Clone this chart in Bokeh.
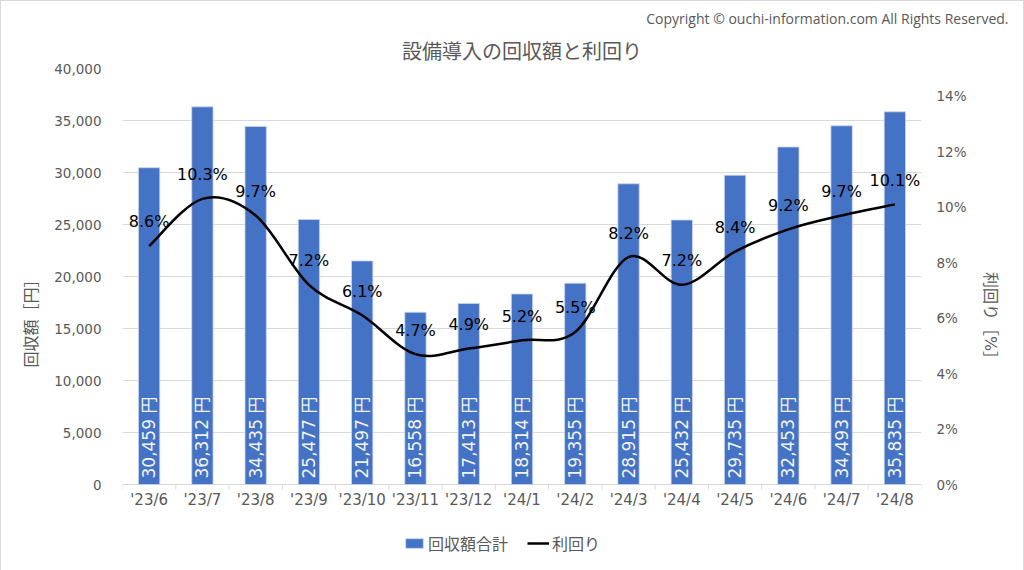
import numpy as np
from bokeh.plotting import figure
from bokeh.models import (Range1d, LinearAxis, FixedTicker, NumeralTickFormatter,
                          PrintfTickFormatter, ColumnDataSource, Legend, LegendItem,
                          Title)
from bokeh.core.properties import value
from bokeh.embed import file_html
from bokeh.resources import INLINE

# ---------------- data ----------------
months = ["'23/6", "'23/7", "'23/8", "'23/9", "'23/10", "'23/11", "'23/12",
          "'24/1", "'24/2", "'24/3", "'24/4", "'24/5", "'24/6", "'24/7", "'24/8"]
amounts = [30459, 36312, 34435, 25477, 21497, 16558, 17413, 18314, 19355,
           28915, 25432, 29735, 32453, 34493, 35835]
yields_pct = [8.6, 10.3, 9.7, 7.2, 6.1, 4.7, 4.9, 5.2, 5.5, 8.2, 7.2, 8.4, 9.2, 9.7, 10.1]
amount_ticks = [0, 5000, 10000, 15000, 20000, 25000, 30000, 35000, 40000]
yield_ticks = [0, 2, 4, 6, 8, 10, 12, 14]

title_text = "設備導入の回収額と利回り"
copyright_text = "Copyright © ouchi-information.com All Rights Reserved."
left_label = "回収額［円］"
right_label = "利回り［%］"
bar_name = "回収額合計"
line_name = "利回り"

FONT = "'DejaVu Sans', 'Noto Sans CJK JP'"
GRAY = "#595959"
GRID = "#d9d9d9"
BLUE = "#4472C4"

# layout (pixels): plot area 416 px tall for the value axes, 86 px below for labels/legend
AXIS_PX = 416
BELOW_PX = 86
AMOUNT_MAX = 40000
PCT_MAX = 15

n = len(months)
xs = np.arange(n, dtype=float)
ys = np.array(yields_pct, dtype=float)

src = ColumnDataSource(dict(
    x=xs, amount=amounts, pct=yields_pct, month=months,
    amount_label=[f"{v:,} 円" for v in amounts],
    pct_label=[f"{v:.1f}%" for v in yields_pct],
))

# Smoothed line (Catmull-Rom style Bezier control points from the data points)
qx = np.concatenate([[xs[0]], xs, [xs[-1]]])
qy = np.concatenate([[ys[0]], ys, [ys[-1]]])
bez = ColumnDataSource(dict(
    x0=qx[1:n], y0=qy[1:n], x1=qx[2:n + 1], y1=qy[2:n + 1],
    cx0=qx[1:n] + (qx[2:n + 1] - qx[0:n - 1]) / 6.0,
    cy0=qy[1:n] + (qy[2:n + 1] - qy[0:n - 1]) / 6.0,
    cx1=qx[2:n + 1] - (qx[3:n + 2] - qx[1:n]) / 6.0,
    cy1=qy[2:n + 1] - (qy[3:n + 2] - qy[1:n]) / 6.0,
))

amount_start = -AMOUNT_MAX * BELOW_PX / AXIS_PX
pct_start = -PCT_MAX * BELOW_PX / AXIS_PX

p = figure(frame_width=799, frame_height=AXIS_PX + BELOW_PX, output_backend="svg",
           toolbar_location=None, x_axis_location=None,
           x_range=Range1d(-0.5, n - 0.5), y_range=Range1d(amount_start, AMOUNT_MAX),
           min_border_left=121, min_border_right=102, min_border_top=0,
           min_border_bottom=0,
           styles={"border": "1px solid #d9d9d9"})
p.extra_y_ranges = {"pct": Range1d(pct_start, PCT_MAX)}
p.outline_line_color = None
p.background_fill_color = "white"
p.border_fill_color = "white"

# titles (copyright is outermost, main title nearest the frame)
p.title.text = copyright_text
p.title.align = "right"
p.title.text_font = "Open Sans"
p.title.text_font_size = "14px"
p.title.text_font_style = "normal"
p.title.text_color = GRAY
p.title.offset = -87
p.add_layout(Title(text=title_text, align="center", text_font=FONT,
                   text_font_size="20px", text_font_style="normal",
                   text_color=GRAY), "above")

p.xgrid.grid_line_color = None
p.ygrid.grid_line_color = GRID
p.ygrid.ticker = FixedTicker(ticks=amount_ticks)

# category boundary tick marks and category labels under the zero line
bounds = np.arange(n + 1) - 0.5
tick_len = AMOUNT_MAX * 5 / AXIS_PX
p.segment(x0=bounds, y0=np.zeros(n + 1), x1=bounds, y1=np.full(n + 1, -tick_len),
          line_color=GRID, line_width=1)
p.text(x="x", y=0, text="month", source=src, y_offset=15, text_align="center",
       text_baseline="middle", text_color=GRAY, text_font=value(FONT),
       text_font_size="15px")

# bars
bars = p.vbar(x="x", top="amount", width=0.4, source=src, fill_color=BLUE,
              line_color="#c9d6ee", line_width=0.8)
p.text(x="x", y=0, text="amount_label", source=src, angle=np.pi / 2,
       text_align="left", text_baseline="middle", y_offset=-6,
       text_color="#f2f2f2", text_font=value(FONT), text_font_size="17px")

# line
p.bezier(x0="x0", y0="y0", x1="x1", y1="y1", cx0="cx0", cy0="cy0",
         cx1="cx1", cy1="cy1", source=bez, line_color="black", line_width=2.5,
         y_range_name="pct")
p.text(x="x", y="pct", text="pct_label", source=src, y_range_name="pct",
       text_align="center", text_baseline="middle", y_offset=-24,
       text_color="black", text_font=value(FONT), text_font_size="16px")
# zero-length line: only provides the legend swatch for the yield curve
line_dummy = p.line(x=[0, 0], y=[0, 0], line_color="black", line_width=2.5)

# value axes
ya = p.yaxis[0]
ya.ticker = FixedTicker(ticks=amount_ticks)
ya.formatter = NumeralTickFormatter(format="0,0")
ya.axis_line_color = None
ya.major_tick_line_color = None
ya.minor_tick_line_color = None
ya.major_label_text_font = FONT
ya.major_label_text_font_size = "13.5px"
ya.major_label_text_color = GRAY
ya.major_label_standoff = 15
ya.axis_label = left_label
ya.axis_label_text_font = FONT
ya.axis_label_text_font_size = "16px"
ya.axis_label_text_font_style = "normal"
ya.axis_label_text_color = GRAY
ya.axis_label_standoff = 10

ra = LinearAxis(y_range_name="pct", ticker=FixedTicker(ticks=yield_ticks),
                formatter=PrintfTickFormatter(format="%d%%"))
ra.axis_line_color = None
ra.major_tick_line_color = None
ra.minor_tick_line_color = None
ra.major_label_text_font = FONT
ra.major_label_text_font_size = "13.5px"
ra.major_label_text_color = GRAY
ra.major_label_standoff = 9
ra.axis_label = right_label
ra.axis_label_text_font = FONT
ra.axis_label_text_font_size = "16px"
ra.axis_label_text_font_style = "normal"
ra.axis_label_text_color = GRAY
ra.axis_label_standoff = 11
p.add_layout(ra, "right")

# legend inside the lower strip of the plot area
legend = Legend(items=[LegendItem(label=bar_name, renderers=[bars]),
                       LegendItem(label=line_name, renderers=[line_dummy])],
                orientation="horizontal", location=(281, 15),
                label_text_font=FONT, label_text_font_size="16px",
                label_text_color=GRAY, glyph_width=22, glyph_height=12,
                spacing=19, label_standoff=3, border_line_color=None,
                background_fill_alpha=0, padding=4, margin=0)
p.add_layout(legend, "center")

open("out.html", "w").write(file_html(p, INLINE))
